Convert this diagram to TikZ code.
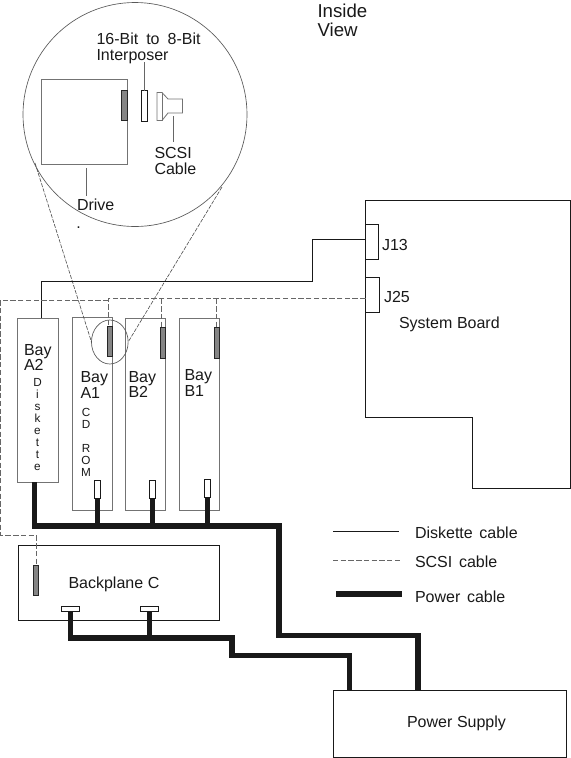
\documentclass[tikz,border=0pt]{standalone}
\usepackage{fontspec}
\setmainfont{Liberation Sans}
\usetikzlibrary{calc,shapes.geometric}
\newcommand{\bx}[6]{% style name x1 y1 x2 y2
  \pgfmathsetmacro{\bxw}{(#5-#3)*0.75}\pgfmathsetmacro{\bxh}{(#6-#4)*0.75}
  \node[#1,minimum width=\bxw pt,minimum height=\bxh pt] (#2) at ({(#3+#5)/2},{(#4+#6)/2}) {};}
\tikzset{
  x=0.75pt,y=-0.75pt,
  thin line/.style={draw=black!90,line width=0.75pt},
  shape base/.style={rectangle,inner sep=0pt,outer sep=0pt},
  bay/.style={shape base,draw=black!55,line width=0.75pt},
  darkbox/.style={shape base,draw=black!90,line width=0.75pt},
  grayconn/.style={shape base,draw=black!85,fill=black!48,line width=0.7pt},
  whiteconn/.style={shape base,draw=black!90,fill=white,line width=0.7pt},
  scsi/.style={draw=black!60,line width=0.55pt,dash pattern=on 4pt off 1.8pt},
  zoomline/.style={draw=black!70,line width=0.45pt,dash pattern=on 3pt off 1pt},
  leader/.style={draw=black!60,line width=0.6pt},
  power/.style={draw=black!90,line width=4pt,line join=miter},
  lab/.style={anchor=base west,inner sep=0pt,outer sep=0pt,text=black!90,font=\fontsize{12pt}{12pt}\selectfont},
  big/.style={lab,font=\fontsize{14pt}{14pt}\selectfont},
  stack/.style={inner sep=0pt,outer sep=0pt,align=center,anchor=north,text=black!90,font=\fontsize{8.8pt}{9pt}\selectfont},
}
\begin{document}
\begin{tikzpicture}
\useasboundingbox (0,0) rectangle (571,758);
% zoom circle and parts
\node[shape base,circle,draw=black!65,line width=0.5pt,minimum size=168pt] (zoomc) at (135,114.5) {};
\bx{bay}{drive}{41.5}{79}{127.5}{164.5}
\bx{grayconn}{dconn}{121.5}{90.5}{127.5}{120.5}
\bx{whiteconn}{interp}{141.5}{90.5}{147.5}{121.5}
\draw[draw=black!55,line width=0.6pt,fill=white] (157,92.5) -- (162,92.5) -- (168,99) -- (182.5,99) -- (182.5,113) -- (168,113) -- (162,120.5) -- (157,120.5) -- cycle;
\draw[draw=black!55,line width=0.6pt] (162,92.5) -- (162,120.5);
\coordinate (plug) at (173,116);
\coordinate (interpT) at (144.5,62);
\coordinate (scsiT) at (173,142);
\coordinate (driveB) at (86,168);
\coordinate (driveT) at (86,196);
\draw[leader] (interpT) -- (interp.north);
\draw[leader] (plug) -- (scsiT);
\draw[leader] (driveB) -- (driveT);
\node[lab] (t16) at (96.5,44.3) {16-Bit\hspace{6pt}to\hspace{6pt}8-Bit};
\node[lab] (tint) at (96.5,60) {Interposer};
\node[lab] (tscsi) at (154.5,158) {SCSI};
\node[lab] (tcable) at (154.5,174) {Cable};
\node[lab] (tdrive) at (77,210) {Drive};
\node[lab] (tdot) at (76.5,228) {.};
\node[big] (tinside) at (317.5,17) {Inside};
\node[big] (tview) at (317.5,36.7) {View};
% bays
\bx{bay}{a2}{17.5}{318}{58}{482}
\bx{bay}{a1}{72.5}{317.5}{112.5}{510}
\bx{bay}{b2}{125.5}{318}{165.5}{510}
\bx{bay}{b1}{179.5}{318}{219.5}{510}
\bx{grayconn}{ga1}{107.5}{326}{112.5}{356.5}
\bx{grayconn}{gb2}{160.5}{327}{165.5}{358.5}
\bx{grayconn}{gb1}{214.5}{327}{219.5}{358.5}
\bx{whiteconn}{wa1}{94.5}{480.5}{100}{498}
\bx{whiteconn}{wb2}{149.5}{480.5}{155}{498}
\bx{whiteconn}{wb1}{204.5}{479.5}{210}{497}
\node[shape base,ellipse,draw=black!65,line width=0.5pt,minimum width=27.5pt,minimum height=33pt] (oval) at (109.8,342) {};
\node[lab] (ta2a) at (24,355) {Bay};
\node[lab] (ta2b) at (24,370) {A2};
\node[lab] (ta1a) at (80.5,382.7) {Bay};
\node[lab] (ta1b) at (80.5,398) {A1};
\node[lab] (tb2a) at (128.5,382.7) {Bay};
\node[lab] (tb2b) at (128.5,397.5) {B2};
\node[lab] (tb1a) at (184.5,380) {Bay};
\node[lab] (tb1b) at (184.5,396) {B1};
\node[stack] (tdisk) at (37.5,378.5) {D\\i\\s\\k\\e\\t\\t\\e};
\node[stack] (tcd) at (86,408.5) {C\\D\\[9pt]R\\O\\M};
% zoom rays
\coordinate (rayL) at (35,163);
\coordinate (rayR) at (222,187);
\draw[zoomline] (rayL) -- (oval.west);
\draw[zoomline] (rayR) -- (oval.east);
% system board
\coordinate (sb1) at (365.5,200.5);
\coordinate (sb2) at (570,200.5);
\coordinate (sb3) at (570,488);
\coordinate (sb4) at (472.5,488);
\coordinate (sb5) at (472.5,417.5);
\coordinate (sb6) at (365.5,417.5);
\draw[thin line] (sb1) -- (sb2) -- (sb3) -- (sb4) -- (sb5) -- (sb6) -- cycle;
\bx{darkbox}{j13}{365.5}{224.5}{378.5}{259.5}
\bx{darkbox}{j25}{365.5}{277.5}{379.5}{312.5}
\node[lab] (tj13) at (382,250) {J13};
\node[lab] (tj25) at (384,302) {J25};
\node[lab] (tsys) at (399,328) {System\hspace{3.5pt}Board};
% diskette cable
\coordinate (dc1) at (41.5,281);
\coordinate (dc2) at (312,281);
\coordinate (dc3) at (312,239.5);
\draw[thin line] (dc1 |- a2.north) -- (dc1) -- (dc2) -- (dc3) -- (dc3 -| j13.west);
% backplane
\bx{darkbox}{bp}{18.5}{545.5}{219.5}{620.5}
\bx{grayconn}{gbp}{33.5}{565.5}{38.5}{595.5}
\bx{whiteconn}{wbp1}{61.5}{606.5}{79.5}{611.5}
\bx{whiteconn}{wbp2}{140.5}{606.5}{158.5}{611.5}
\node[lab] (tbp) at (68.5,588) {Backplane\hspace{3.5pt}C};
% scsi cable
\coordinate (sc1) at (108.5,298.5);
\coordinate (sc2) at (161.5,298.5);
\coordinate (sc3) at (216.5,298.5);
\coordinate (sc4) at (108.5,300);
\coordinate (sc5) at (0.5,300);
\coordinate (sc6) at (0.5,535);
\coordinate (sc7) at (36,535);
\draw[scsi] (sc1 -| j25.west) -- (sc1) -- (sc1 |- ga1.north);
\draw[scsi] (sc2) -- (sc2 |- gb2.north);
\draw[scsi] (sc3) -- (sc3 |- gb1.north);
\draw[scsi] (sc4) -- (sc5) -- (sc6) -- (sc7) -- (gbp.north);
% power supply
\bx{darkbox}{ps}{333.5}{690}{566}{757}
\node[lab] (tps) at (407,727) {Power\hspace{3.5pt}Supply};
% power cables
\coordinate (p1) at (34.5,526);
\coordinate (p2) at (279,526);
\coordinate (p3) at (279,635.5);
\coordinate (p4) at (418,635.5);
\coordinate (q1) at (70,638);
\coordinate (q2) at (232,638);
\coordinate (q3) at (232,655.5);
\coordinate (q4) at (349.5,655.5);
\draw[power] (p1 |- a2.south) -- (p1) -- (p2) -- (p3) -- (p4) -- (p4 |- ps.north);
\draw[power] (wa1.south) -- (wa1.south |- p1);
\draw[power] (wb2.south) -- (wb2.south |- p1);
\draw[power] (wb1.south) -- (wb1.south |- p1);
\draw[power] (wbp1.south) -- (wbp1.south |- q1) -- (q2) -- (q3) -- (q4) -- (q4 |- ps.north);
\draw[power] (wbp2.south) -- (wbp2.south |- q1);
% legend
\coordinate (l1a) at (333,531); \coordinate (l1b) at (399,531);
\coordinate (l2a) at (333,560.5); \coordinate (l2b) at (401,560.5);
\coordinate (l3a) at (336,594); \coordinate (l3b) at (402,594);
\draw[thin line] (l1a) -- (l1b);
\draw[scsi] (l2a) -- (l2b);
\draw[power] (l3a) -- (l3b);
\node[lab] (tl1) at (415,538) {Diskette\hspace{5pt}cable};
\node[lab] (tl2) at (415,567) {SCSI\hspace{5pt}cable};
\node[lab] (tl3) at (415,602) {Power\hspace{5pt}cable};
\end{tikzpicture}
\end{document}
